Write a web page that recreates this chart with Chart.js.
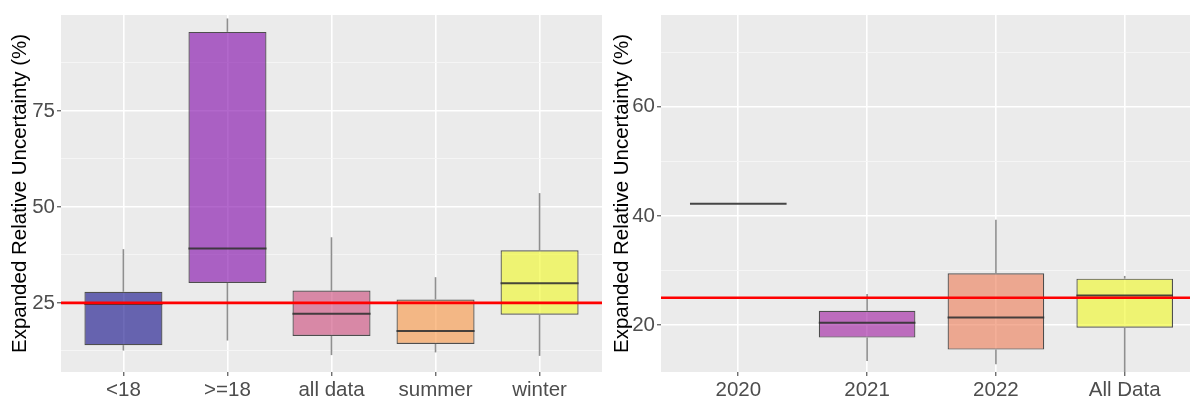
<!DOCTYPE html>
<html>
<head>
<meta charset="utf-8">
<script src="https://cdn.jsdelivr.net/npm/chart.js@4.4.1/dist/chart.umd.min.js"></script>
<style>
  html, body { margin: 0; padding: 0; background: #ffffff; overflow: hidden; width: 1190px; height: 403px; }
  canvas { position: absolute; top: 0; }
  #groups { left: 0; }
  #years { left: 600px; }
</style>
</head>
<body>
<canvas id="groups" width="605" height="403"></canvas>
<canvas id="years" width="606" height="403"></canvas>
<script>
const yTitle = 'Expanded Relative Uncertainty (%)';
const threshold = 25;

// Grouped by age class and season
const groupCategories = ['<18', '>=18', 'all data', 'summer', 'winter'];
const groupLower  = [12.6, 15.2, 11.4, 12.1, 11.2];
const groupQ1     = [14.0, 30.2, 16.4, 14.3, 21.9];
const groupMedian = [24.7, 39.2, 22.2, 17.7, 30.1];
const groupQ3     = [27.9, 95.6, 28.2, 25.9, 38.7];
const groupUpper  = [39.0, 99.1, 42.1, 31.7, 53.6];
const groupColors = ['#0D0887', '#7E03A8', '#CC4678', '#F89441', '#F0F921'];
const groupYTicks = [25, 50, 75];
const groupYRange = [7.0, 100.0];

// Grouped by year
const yearCategories = ['2020', '2021', '2022', 'All Data'];
const yearLower  = [42.2, 13.4, 12.8, 11.0];
const yearQ1     = [42.2, 17.7, 15.5, 19.5];
const yearMedian = [42.2, 20.4, 21.4, 25.4];
const yearQ3     = [42.2, 22.6, 29.5, 28.5];
const yearUpper  = [42.2, 25.7, 39.3, 29.0];
const yearColors = ['#0D0887', '#9C179E', '#ED7953', '#F0F921'];
const yearYTicks = [20, 40, 60];
const yearYRange = [11.4, 76.8];

const FONT = '"Liberation Sans", Arial, Helvetica, sans-serif';
const EXPAND = 0.6;      // discrete axis padding on each side
const BOX_WIDTH = 0.75;  // box width as a share of category spacing
const FILL_ALPHA = 0.6;

function rgba(hex, a) {
  const n = parseInt(hex.slice(1), 16);
  return `rgba(${(n >> 16) & 255},${(n >> 8) & 255},${n & 255},${a})`;
}

// grey panel behind the plotting region
const panelBackground = {
  id: 'panelBackground',
  beforeDraw(chart) {
    const { ctx, chartArea: a } = chart;
    ctx.save();
    ctx.fillStyle = '#EBEBEB';
    ctx.fillRect(a.left, a.top, a.right - a.left, a.bottom - a.top);
    ctx.restore();
  }
};

function whisker(data) {
  return {
    type: 'bar', data,
    backgroundColor: 'rgba(51,51,51,0.55)', borderWidth: 0,
    grouped: false, categoryPercentage: 1, barPercentage: BOX_WIDTH,
    maxBarThickness: 1.6, order: 3
  };
}

function boxChart(canvasId, cats, lo, q1, med, q3, hi, colors, yTicks, yRange, layout) {
  const idx = cats.map((_, i) => i);
  const step = yTicks[1] - yTicks[0];
  const minor = [yTicks[0] - step / 2, ...yTicks.map(v => v + step / 2)]
    .filter(v => v > yRange[0] && v < yRange[1]);
  const yGrid = [...yTicks, ...minor].sort((a, b) => a - b);
  const isMajor = v => yTicks.includes(v);
  const xMin = -EXPAND, xMax = cats.length - 1 + EXPAND;

  const datasets = [
    { // reference line
      type: 'line',
      data: [{ x: xMin, y: threshold }, { x: xMax, y: threshold }],
      borderColor: '#FF0000', borderWidth: 2.6, pointRadius: 0, order: 0
    },
    { // medians
      type: 'line',
      data: idx.flatMap(i => [
        { x: i - BOX_WIDTH / 2, y: med[i] },
        { x: i + BOX_WIDTH / 2, y: med[i] },
        { x: i, y: null }
      ]),
      borderColor: 'rgba(51,51,51,0.9)', borderWidth: 2, pointRadius: 0,
      spanGaps: false, order: 1
    },
    { // interquartile boxes
      type: 'bar',
      data: idx.map(i => ({ x: i, y: [q1[i], q3[i]] })),
      backgroundColor: colors.map(c => rgba(c, FILL_ALPHA)),
      borderColor: 'rgba(51,51,51,0.85)', borderWidth: 1.2, borderSkipped: false,
      grouped: false, categoryPercentage: 1, barPercentage: BOX_WIDTH, order: 2
    },
    whisker(idx.map(i => ({ x: i, y: [q3[i], hi[i]] }))),  // upper whiskers
    whisker(idx.map(i => ({ x: i, y: [lo[i], q1[i]] })))   // lower whiskers
  ];

  return new Chart(document.getElementById(canvasId), {
    type: 'bar',
    data: { datasets },
    plugins: [panelBackground],
    options: {
      responsive: false,
      animation: false,
      events: [],
      layout: { padding: layout.padding },
      plugins: { legend: { display: false }, tooltip: { enabled: false } },
      scales: {
        x: {
          type: 'linear', min: xMin, max: xMax, offset: false,
          afterBuildTicks: s => { s.ticks = idx.map(v => ({ value: v })); },
          afterFit: s => { s.height = 31; },
          grid: { offset: false, color: '#FFFFFF', lineWidth: 1.6, tickColor: '#333333', tickLength: 4, tickWidth: 1 },
          border: { display: false },
          ticks: {
            callback: v => cats[v], color: '#4D4D4D', font: { family: FONT, size: 20.5 },
            padding: 2, maxRotation: 0, autoSkip: false
          }
        },
        y: {
          type: 'linear', min: yRange[0], max: yRange[1],
          afterBuildTicks: s => { s.ticks = yGrid.map(v => ({ value: v })); },
          afterFit: s => { s.width = 61; },
          grid: {
            color: c => isMajor(c.tick.value) ? '#FFFFFF' : '#F6F6F6',
            lineWidth: c => isMajor(c.tick.value) ? 1.6 : 0.9,
            tickColor: c => isMajor(c.tick.value) ? '#333333' : 'rgba(0,0,0,0)',
            tickLength: 4, tickWidth: 1
          },
          border: { display: false },
          ticks: {
            callback: v => isMajor(v) ? String(v) : '', color: '#4D4D4D',
            font: { family: FONT, size: 20.5 }, padding: 2, autoSkip: false
          },
          title: {
            display: true, text: yTitle, color: '#000000',
            font: { family: FONT, size: 20.5 }, padding: { top: layout.titlePad, bottom: 0 }
          }
        }
      }
    }
  });
}

boxChart('groups', groupCategories, groupLower, groupQ1, groupMedian, groupQ3, groupUpper,
  groupColors, groupYTicks, groupYRange, { padding: { top: 15, right: 3, left: 0, bottom: 0 }, titlePad: 8 });
boxChart('years', yearCategories, yearLower, yearQ1, yearMedian, yearQ3, yearUpper,
  yearColors, yearYTicks, yearYRange, { padding: { top: 15, right: 4, left: 0, bottom: 0 }, titlePad: 10 });
</script>
</body>
</html>
